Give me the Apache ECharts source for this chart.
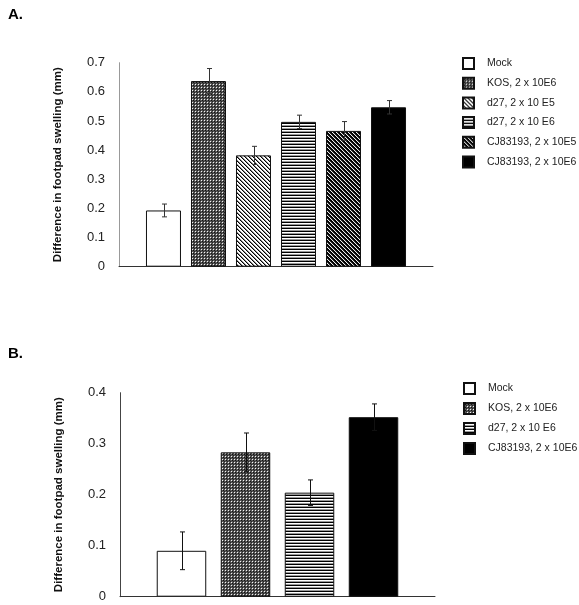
<!DOCTYPE html>
<html>
<head>
<meta charset="utf-8">
<script src="https://cdn.jsdelivr.net/npm/echarts@6/dist/echarts.min.js"></script>
<style>
html,body{margin:0;padding:0;background:#fff;}
#chart{width:579px;height:605px;}
</style>
</head>
<body>
<div id="chart"></div>
<script>
// ---- data ----
const categoriesA = ['Mock', 'KOS, 2 x 10E6', 'd27, 2 x 10 E5', 'd27, 2 x 10 E6', 'CJ83193, 2 x 10E5', 'CJ83193, 2 x 10E6'];
const valuesA = [0.193, 0.637, 0.382, 0.497, 0.466, 0.547];
const errorsA = [0.022, 0.043, 0.031, 0.023, 0.032, 0.023];

const categoriesB = ['Mock', 'KOS, 2 x 10E6', 'd27, 2 x 10 E6', 'CJ83193, 2 x 10E6'];
const valuesB = [0.090, 0.283, 0.204, 0.352];
const errorsB = [0.037, 0.038, 0.025, 0.026];

const yMaxA = 0.7, yMaxB = 0.4, yStep = 0.1;
const yTitle = 'Difference in footpad swelling (mm)';

// ---- patterns ----
function pixelPattern(w, h, fn) {
  const c = document.createElement('canvas');
  c.width = w; c.height = h;
  const ctx = c.getContext('2d');
  for (let y = 0; y < h; y++) for (let x = 0; x < w; x++) {
    ctx.fillStyle = fn(x, y);
    ctx.fillRect(x, y, 1, 1);
  }
  return { image: c, repeat: 'repeat' };
}
const patterns = {
  'Mock': '#ffffff',
  'KOS, 2 x 10E6': pixelPattern(3, 3, (x, y) => {
    if (x === 0 && y === 0) return '#f4f4f4';
    if (x === 1 && y === 1) return '#111111';
    if (x === 2 && y === 2) return '#222222';
    return '#555555';
  }),
  'd27, 2 x 10 E5': pixelPattern(4, 4, (x, y) => {
    const m = ((x - y) % 4 + 4) % 4;
    return m === 0 ? '#000000' : (m === 1 ? '#888888' : '#ffffff');
  }),
  'd27, 2 x 10 E6': pixelPattern(1, 3, (x, y) => ['#000000', '#ffffff', '#999999'][y]),
  'CJ83193, 2 x 10E5': pixelPattern(4, 4, (x, y) => {
    const m = ((x - y) % 4 + 4) % 4;
    return m === 0 ? '#eeeeee' : (m === 1 ? '#333333' : '#000000');
  }),
  'CJ83193, 2 x 10E6': '#000000'
};

// ---- layout constants ----
const barWA = 35, gapA = 10;
const barWB = 49.5, gapB = 14.5;

function barSeries(names, values, gridIdx, barW, gap) {
  return names.map((n, i) => ({
    type: 'bar',
    name: n,
    xAxisIndex: gridIdx,
    yAxisIndex: gridIdx,
    barWidth: barW,
    barGap: (gap / barW * 100).toFixed(1) + '%',
    data: [values[i]],
    itemStyle: { color: patterns[n], borderColor: '#111', borderWidth: 1 },
    emphasis: { disabled: true },
    animation: false
  }));
}

function errSeries(values, errors, gridIdx, barW, gap, color) {
  const n = values.length;
  return {
    type: 'custom',
    xAxisIndex: gridIdx,
    yAxisIndex: gridIdx,
    z: 10,
    animation: false,
    silent: true,
    data: values.map((v, i) => [0, v, errors[i], i]),
    renderItem: function (params, api) {
      const v = api.value(1), e = api.value(2), idx = api.value(3);
      const top = api.coord([0, v + e]);
      const bot = api.coord([0, v - e]);
      const x = Math.round(top[0] + (idx - (n - 1) / 2) * (barW + gap)) + 0.5;
      const cap = 2.5;
      const st = { stroke: color, lineWidth: 1 };
      return {
        type: 'group',
        children: [
          { type: 'line', shape: { x1: x, y1: top[1], x2: x, y2: bot[1] }, style: st },
          { type: 'line', shape: { x1: x - cap, y1: top[1], x2: x + cap, y2: top[1] }, style: st },
          { type: 'line', shape: { x1: x - cap, y1: bot[1], x2: x + cap, y2: bot[1] }, style: st }
        ]
      };
    }
  };
}

function yAxis(gridIdx, max, lineColor) {
  return {
    type: 'value', gridIndex: gridIdx, min: 0, max: max, interval: yStep,
    splitLine: { show: false },
    axisLine: { show: true, lineStyle: { color: lineColor, width: 1 } },
    axisTick: { show: false },
    axisLabel: { fontFamily: 'Liberation Sans, Arial, sans-serif', fontSize: 13, color: '#222', margin: 14 },
    name: yTitle, nameLocation: 'middle', nameGap: 55, nameRotate: 90,
    nameTextStyle: { fontFamily: 'Liberation Sans, Arial, sans-serif', fontSize: 11.5, fontWeight: 'bold', color: '#111' }
  };
}
function xAxis(gridIdx) {
  return {
    type: 'category', gridIndex: gridIdx, data: [''],
    axisLine: { show: true, lineStyle: { color: '#333', width: 1 } },
    axisTick: { show: false },
    axisLabel: { show: false }
  };
}

const legendText = { fontFamily: 'Liberation Sans, Arial, sans-serif', fontSize: 10.5, color: '#222', padding: [0, 0, 0, 8] };

const option = {
  backgroundColor: '#ffffff',
  animation: false,
  title: [
    { text: 'A.', left: 3, top: 2, textStyle: { fontFamily: 'Liberation Sans, Arial, sans-serif', fontSize: 15, fontWeight: 'bold', color: '#000' } },
    { text: 'B.', left: 3, top: 341, textStyle: { fontFamily: 'Liberation Sans, Arial, sans-serif', fontSize: 15, fontWeight: 'bold', color: '#000' } }
  ],
  grid: [
    { left: 119, top: 62.7, width: 314, height: 204, containLabel: false },
    { left: 120, top: 392.7, width: 315, height: 204, containLabel: false }
  ],
  xAxis: [xAxis(0), xAxis(1)],
  yAxis: [yAxis(0, yMaxA, '#999'), yAxis(1, yMaxB, '#444')],
  legend: [
    { data: categoriesA, orient: 'vertical', left: 457, top: 52, itemWidth: 11, itemHeight: 11, itemGap: 6.7, icon: 'rect', textStyle: legendText, selectedMode: false },
    { data: categoriesB, orient: 'vertical', left: 458, top: 377, itemWidth: 11, itemHeight: 11, itemGap: 7, icon: 'rect', textStyle: legendText, selectedMode: false }
  ],
  series: [].concat(
    barSeries(categoriesA, valuesA, 0, barWA, gapA),
    [errSeries(valuesA, errorsA, 0, barWA, gapA, '#333')],
    barSeries(categoriesB, valuesB, 1, barWB, gapB),
    [errSeries(valuesB, errorsB, 1, barWB, gapB, '#111')]
  )
};

const chart = echarts.init(document.getElementById('chart'), null, { renderer: 'canvas', devicePixelRatio: 1 });
chart.setOption(option);
</script>
</body>
</html>
